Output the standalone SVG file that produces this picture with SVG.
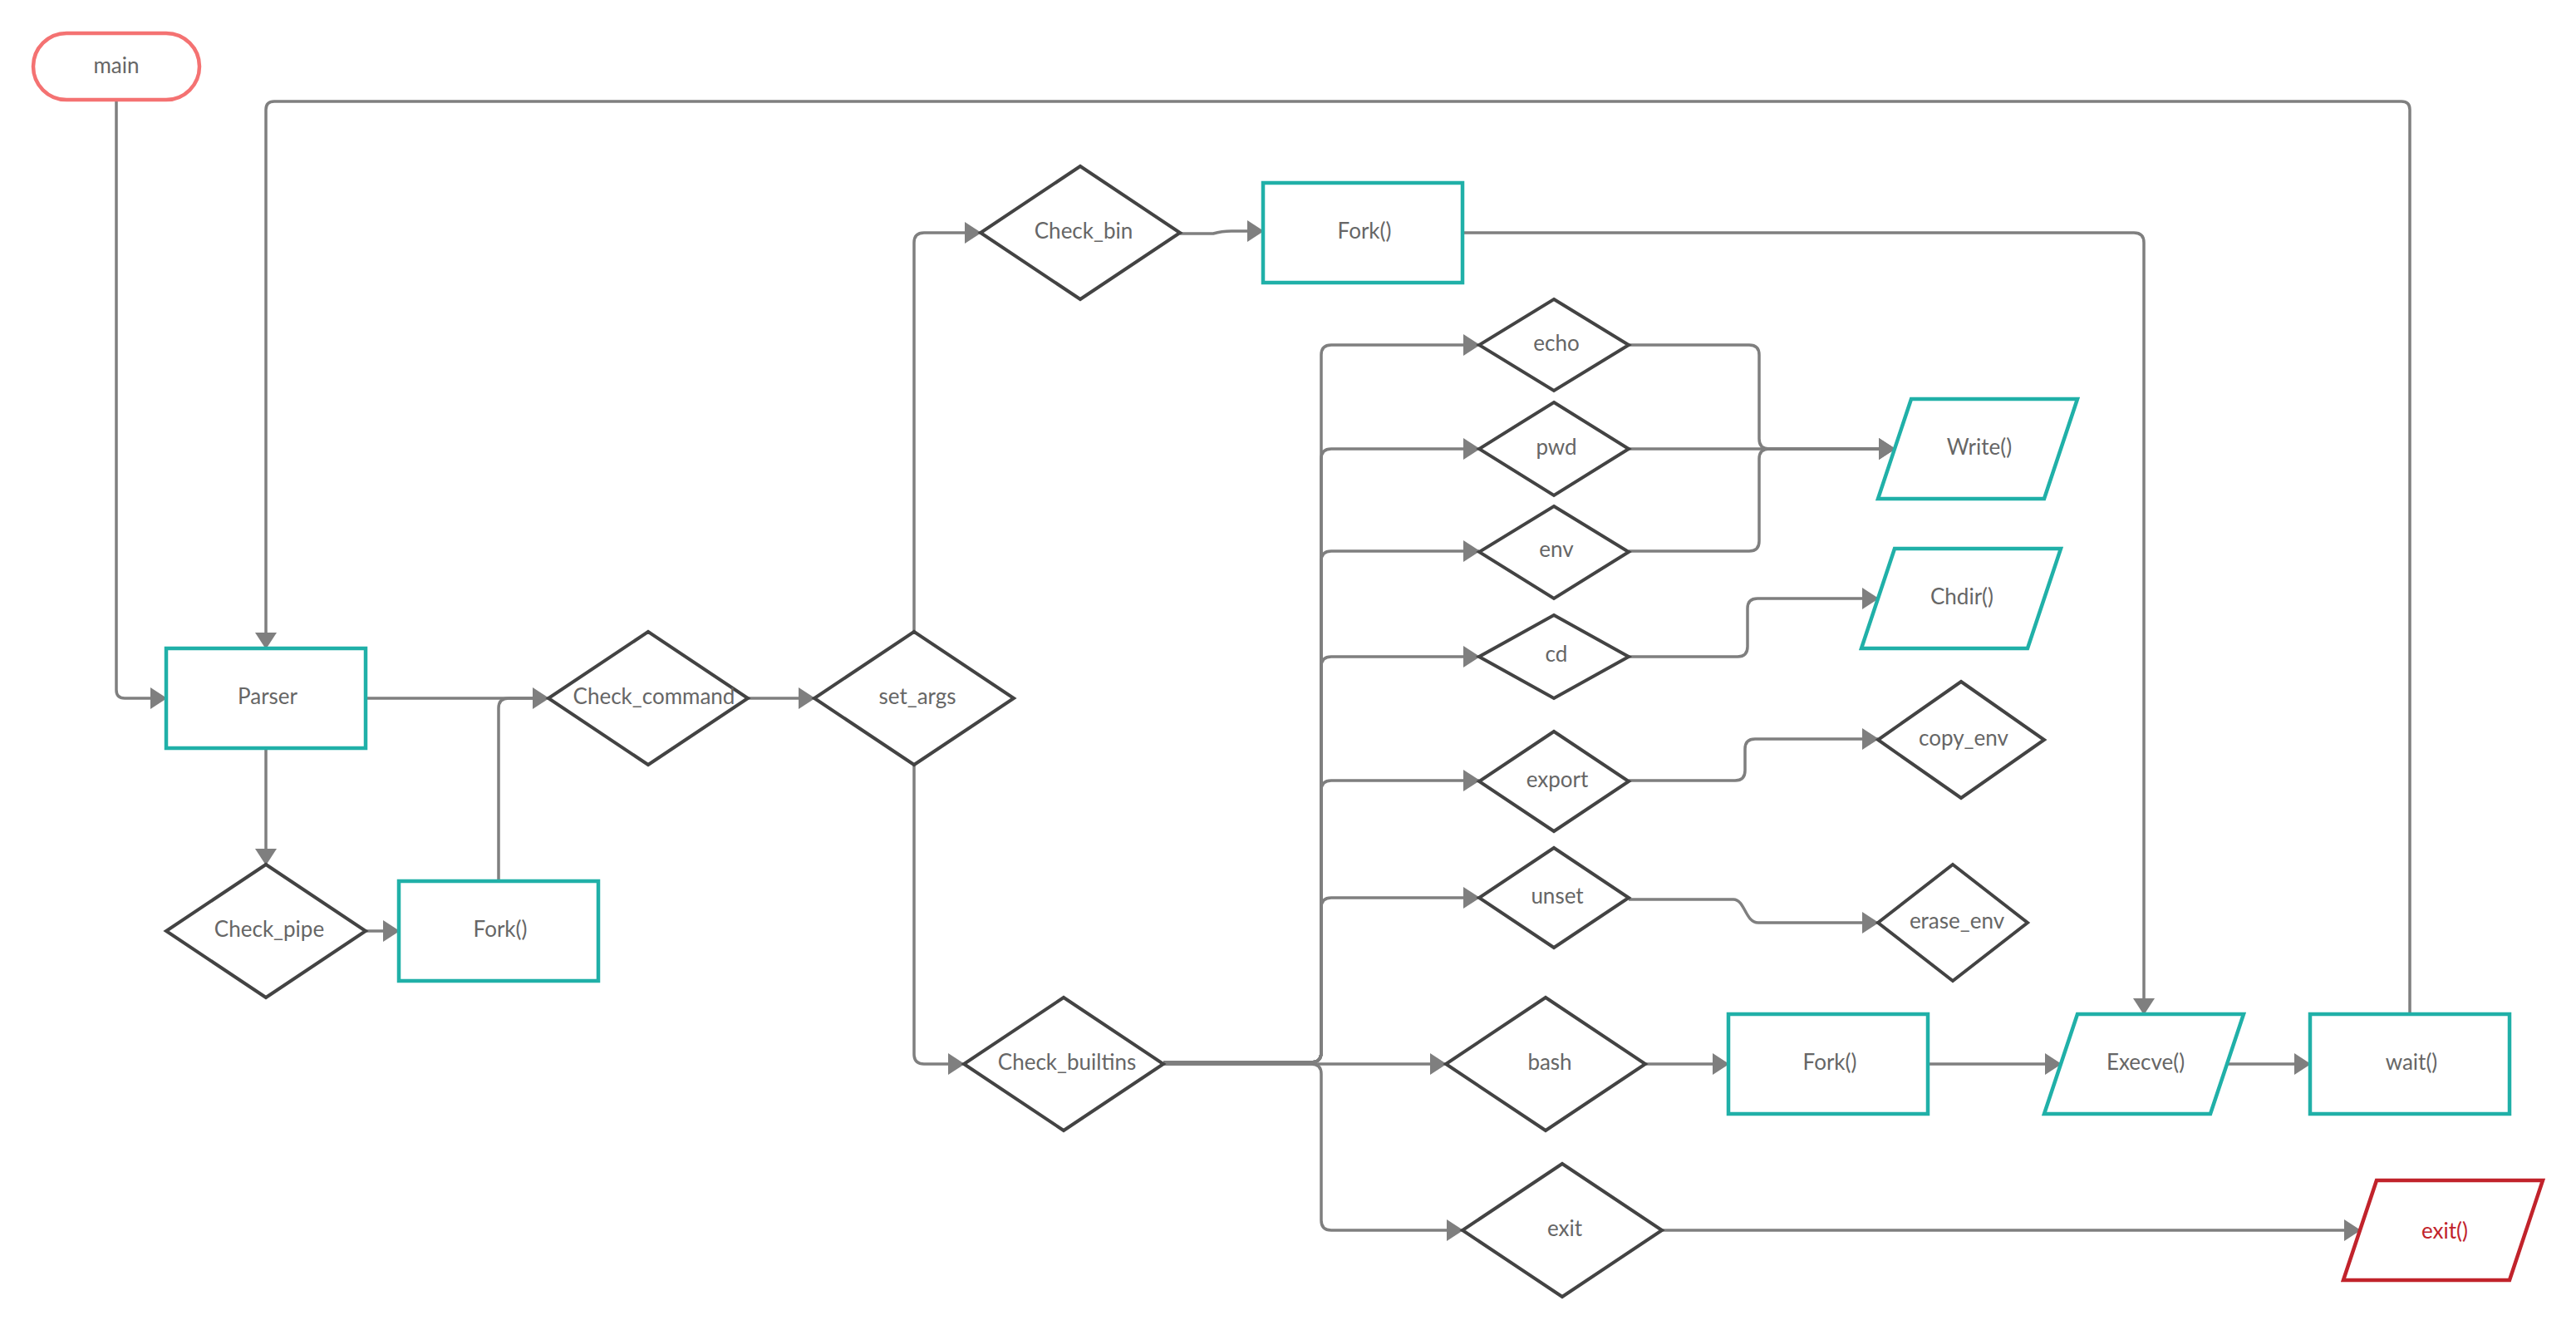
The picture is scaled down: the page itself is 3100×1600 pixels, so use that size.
<svg xmlns="http://www.w3.org/2000/svg" width="3100" height="1600" viewBox="0 0 3100 1600">
<defs>
<style>
.dia{fill:#fff;stroke:#434343;stroke-width:4;stroke-linejoin:miter}
.box{fill:#fff;stroke:#20b0a8;stroke-width:4.5}
.red{fill:#fff;stroke:#c1232b;stroke-width:4.5}
.pill{fill:#fff;stroke:#f47272;stroke-width:4.5}
.c{fill:none;stroke:#7f7f7f;stroke-width:3.5}
.a{marker-end:url(#arr)}
text{font-family:Lato,"Liberation Sans",sans-serif;font-size:26px;fill:#666;text-anchor:middle;dominant-baseline:central}
.rt{fill:#c1232b}
</style>
<marker id="arr" viewBox="0 0 20 26" refX="19" refY="13" markerWidth="20" markerHeight="26" markerUnits="userSpaceOnUse" orient="auto">
<path d="M0 0 L20 13 L0 26 Z" fill="#7f7f7f"/>
</marker>
</defs>
<rect width="3100" height="1600" fill="#fff"/>
<g id="connectors">
<path class="c a" d="M140 120 V830 Q140 840 150 840 H200"/>
<path class="c a" d="M2900 1220 V132 Q2900 122 2890 122 H330 Q320 122 320 132 V780"/>
<path class="c a" d="M440 840 H660"/>
<path class="c" d="M600 1060 V852 Q600 840 612 840 H650"/>
<path class="c a" d="M320 900 V1040"/>
<path class="c a" d="M440 1120 H480"/>
<path class="c a" d="M900 840 H980"/>
<path class="c a" d="M1100 760 V292 Q1100 280 1112 280 H1180"/>
<path class="c a" d="M1100 920 V1268 Q1100 1280 1112 1280 H1160"/>
<path class="c a" d="M1420 281 H1460 Q1470 278 1482 278 H1520"/>
<path class="c a" d="M1760 280 H2568 Q2580 280 2580 292 V1220"/>
<path class="c a" d="M1400 1278 H1578 Q1590 1278 1590 1266 V427 Q1590 415 1602 415 H1780"/>
<path class="c a" d="M1400 1278 H1578 Q1590 1278 1590 1266 V552 Q1590 540 1602 540 H1780"/>
<path class="c a" d="M1400 1278 H1578 Q1590 1278 1590 1266 V675 Q1590 663 1602 663 H1780"/>
<path class="c a" d="M1400 1278 H1578 Q1590 1278 1590 1266 V802 Q1590 790 1602 790 H1780"/>
<path class="c a" d="M1400 1278 H1578 Q1590 1278 1590 1266 V951 Q1590 939 1602 939 H1780"/>
<path class="c a" d="M1400 1278 H1578 Q1590 1278 1590 1266 V1092 Q1590 1080 1602 1080 H1780"/>
<path class="c a" d="M1400 1280 H1740"/>
<path class="c a" d="M1400 1280 H1578 Q1590 1280 1590 1292 V1468 Q1590 1480 1602 1480 H1760"/>
<path class="c a" d="M1960 415 H2105 Q2117 415 2117 427 V528 Q2117 540 2129 540 H2280"/>
<path class="c a" d="M1960 540 H2280"/>
<path class="c a" d="M1960 663 H2105 Q2117 663 2117 651 V552 Q2117 540 2129 540 H2280"/>
<path class="c a" d="M1960 790 H2091 Q2103 790 2103 778 V732 Q2103 720 2115 720 H2260"/>
<path class="c a" d="M1960 939 H2088 Q2100 939 2100 927 V901 Q2100 889 2112 889 H2260"/>
<path class="c a" d="M1960 1082 H2086 C2100 1082 2100 1110 2116 1110 H2260"/>
<path class="c a" d="M1980 1280 H2080"/>
<path class="c a" d="M2320 1280 H2480"/>
<path class="c a" d="M2680 1280 H2780"/>
<path class="c a" d="M2000 1480 H2840"/>
</g>
<g id="main"><rect class="pill" x="40" y="40" width="200" height="80" rx="40" ry="40"/><text x="140" y="78">main</text></g>
<g id="parser"><rect class="box" x="200" y="780" width="240" height="120"/><text x="322" y="837">Parser</text></g>
<g id="check_pipe"><polygon class="dia" points="320,1040 440,1120 320,1200 200,1120"/><text x="324" y="1117">Check_pipe</text></g>
<g id="fork1"><rect class="box" x="480" y="1060" width="240" height="120"/><text x="602" y="1117">Fork()</text></g>
<g id="check_command"><polygon class="dia" points="780,760 900,840 780,920 660,840"/><text x="787" y="837">Check_command</text></g>
<g id="set_args"><polygon class="dia" points="1100,760 1220,840 1100,920 980,840"/><text x="1104" y="837">set_args</text></g>
<g id="check_bin"><polygon class="dia" points="1300,200 1420,280 1300,360 1180,280"/><text x="1304" y="277">Check_bin</text></g>
<g id="fork_bin"><rect class="box" x="1520" y="220" width="240" height="120"/><text x="1642" y="277">Fork()</text></g>
<g id="check_builtins"><polygon class="dia" points="1280,1200 1400,1280 1280,1360 1160,1280"/><text x="1284" y="1277">Check_builtins</text></g>
<g id="echo"><polygon class="dia" points="1870,360 1960,415 1870,470 1780,415"/><text x="1873" y="412">echo</text></g>
<g id="pwd"><polygon class="dia" points="1870,484 1960,540 1870,596 1780,540"/><text x="1873" y="537">pwd</text></g>
<g id="env"><polygon class="dia" points="1870,609 1960,664 1870,720 1780,664"/><text x="1873" y="660">env</text></g>
<g id="cd"><polygon class="dia" points="1870,740 1960,790 1870,840 1780,790"/><text x="1873" y="786">cd</text></g>
<g id="export"><polygon class="dia" points="1870,880 1960,940 1870,1000 1780,940"/><text x="1874" y="937">export</text></g>
<g id="unset"><polygon class="dia" points="1870,1020 1960,1080 1870,1140 1780,1080"/><text x="1874" y="1077">unset</text></g>
<g id="write"><polygon class="box" points="2300,480 2500,480 2460,600 2260,600"/><text x="2382" y="537">Write()</text></g>
<g id="chdir"><polygon class="box" points="2280,660 2480,660 2440,780 2240,780"/><text x="2361" y="717">Chdir()</text></g>
<g id="copy_env"><polygon class="dia" points="2360,820 2460,890 2360,960 2260,890"/><text x="2363" y="887">copy_env</text></g>
<g id="erase_env"><polygon class="dia" points="2350,1040 2440,1110 2350,1180 2260,1110"/><text x="2355" y="1107">erase_env</text></g>
<g id="bash"><polygon class="dia" points="1860,1200 1980,1280 1860,1360 1740,1280"/><text x="1865" y="1277">bash</text></g>
<g id="fork_bash"><rect class="box" x="2080" y="1220" width="240" height="120"/><text x="2202" y="1277">Fork()</text></g>
<g id="execve"><polygon class="box" points="2500,1220 2700,1220 2660,1340 2460,1340"/><text x="2582" y="1277">Execve()</text></g>
<g id="wait"><rect class="box" x="2780" y="1220" width="240" height="120"/><text x="2902" y="1277">wait()</text></g>
<g id="exit"><polygon class="dia" points="1880,1400 2000,1480 1880,1560 1760,1480"/><text x="1883" y="1477">exit</text></g>
<g id="exit_call"><polygon class="red" points="2860,1420 3060,1420 3020,1540 2820,1540"/><text class="rt" x="2942" y="1480">exit()</text></g>
</svg>
